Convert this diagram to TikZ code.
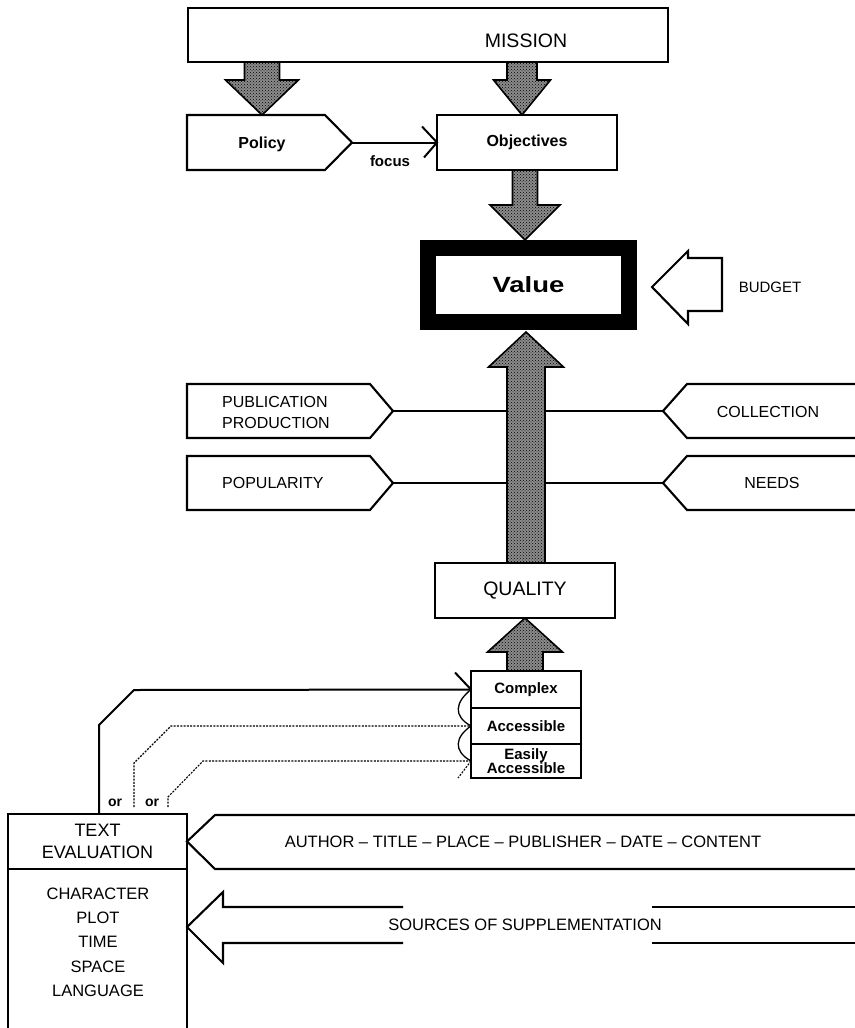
\documentclass[tikz,border=0pt]{standalone}
\usepackage{fontspec}
\setmainfont{Liberation Sans}
\usetikzlibrary{calc,patterns}

% vertical block arrow between two named points:
% #1 start, #2 tip, #3 shaft half-width, #4 head half-width, #5 head length
\newcommand\vblock[5]{%
  \draw[blockarrow] let \p1=(#1), \p2=(#2), \n1={sign(\y2-\y1)} in
    (\x1-#3pt,\y1) -- (\x1-#3pt,\y2-\n1*#5pt) -- (\x1-#4pt,\y2-\n1*#5pt) --
    (\x2,\y2) -- (\x1+#4pt,\y2-\n1*#5pt) -- (\x1+#3pt,\y2-\n1*#5pt) --
    (\x1+#3pt,\y1) -- cycle;}

\begin{document}
\begin{tikzpicture}[x=1pt,y=-1pt,
  box/.style={draw, line width=2.1pt, fill=white, inner sep=0pt, outer sep=0pt, align=center},
  txt/.style={inner sep=0pt, align=center, font=\fontsize{16}{18}\selectfont},
  btxt/.style={inner sep=0pt, align=center, font=\fontsize{15}{15}\selectfont\bfseries},
  outline/.style={draw, line width=2.1pt, line join=miter},
  edge/.style={line width=2pt},
  thinedge/.style={line width=1.3pt},
  dots/.style={line width=1.1pt, dash pattern=on 2pt off 1.3pt},
  blockarrow/.style={draw, line width=1.6pt, line join=miter,
    preaction={fill=black!45}, pattern=crosshatch dots, pattern color=black}]

\fill[white] (0,0) rectangle (854,1028);
\useasboundingbox (0,0) rectangle (854,1028);

% ---------- top: mission, policy, objectives ----------
\node[box, minimum width=480pt, minimum height=54pt] (mission) at (428,35) {};
\node[txt, font=\fontsize{19.5}{21}\selectfont] (missiontxt) at (526,41) {MISSION};

\draw[outline, fill=white] (187,115) -- (325,115) -- (352,142.5) -- (325,170) -- (187,170) -- cycle;
\coordinate (policytip) at (352,142.5);
\node[btxt, font=\fontsize{16}{18}\selectfont\bfseries] (policy) at (262,144) {Policy};

\node[box, minimum width=180pt, minimum height=55pt,
      font=\fontsize{16}{18}\selectfont\bfseries] (objectives) at (527,142.5) {Objectives};

\draw[edge] (policytip) -- (objectives.west);
\draw[edge] ($(objectives.west)+(-15,-16)$) -- (objectives.west) -- ($(objectives.west)+(-13,15)$);
\node[btxt] (focus) at (390,161) {focus};

\coordinate (m1) at (262,62);  \coordinate (p1) at (262,115);
\coordinate (m2) at (522,62);  \coordinate (o2) at (522,115);
\vblock{m1}{p1}{17.5}{36.5}{35}
\vblock{m2}{o2}{15}{28.5}{35}

% ---------- value and budget ----------
\node[draw, line width=16pt, fill=white, inner sep=0pt, outer sep=0pt,
      minimum width=201pt, minimum height=74pt] (value) at (528.5,285)
      {\scalebox{1.25}[1]{\fontsize{22}{24}\selectfont\bfseries Value}};

\coordinate (o3) at (525,170); \coordinate (v3) at (525,240);
\vblock{o3}{v3}{12.5}{35}{35}

\draw[outline, fill=white] (652,287) -- (688,251) -- (688,258) -- (722,258) --
  (722,311) -- (688,311) -- (688,324) -- cycle;
\node[txt, font=\fontsize{15}{17}\selectfont] (budget) at (770,287) {BUDGET};

% ---------- factors left and right ----------
\draw[outline, fill=white] (187,384) -- (370,384) -- (393,411) -- (370,438) -- (187,438) -- cycle;
\coordinate (pubtip) at (393,411);
\node[txt, anchor=west, align=left, font=\fontsize{16}{21}\selectfont] (publication) at (222,412)
  {PUBLICATION\\PRODUCTION};

\draw[outline, fill=white] (187,456) -- (370,456) -- (393,483) -- (370,510) -- (187,510) -- cycle;
\coordinate (poptip) at (393,483);
\node[txt, anchor=west] (popularity) at (222,483) {POPULARITY};

\draw[outline, fill=white] (858,384) -- (687,384) -- (663,411) -- (687,438) -- (858,438);
\coordinate (colltip) at (663,411);
\node[txt] (collection) at (768,412) {COLLECTION};

\draw[outline, fill=white] (858,456) -- (687,456) -- (663,483) -- (687,510) -- (858,510);
\coordinate (needstip) at (663,483);
\node[txt] (needs) at (772,483) {NEEDS};

\draw[edge] (pubtip) -- (colltip);
\draw[edge] (poptip) -- (needstip);

% ---------- quality ----------
\node[box, minimum width=180pt, minimum height=55pt,
      font=\fontsize{19.5}{21}\selectfont] (quality) at (525,590.5) {QUALITY};

\coordinate (q4) at (526,563); \coordinate (v4) at (526,332);
\vblock{q4}{v4}{19}{37.5}{35}

% ---------- levels of accessibility ----------
\node[box, minimum width=110pt, minimum height=37pt, btxt] (complex) at (526,689.5) {Complex};
\node[box, minimum width=110pt, minimum height=36pt, btxt] (accessible) at (526,726) {Accessible};
\node[box, minimum width=110pt, minimum height=34pt, btxt,
      font=\fontsize{15}{14.5}\selectfont\bfseries] (easily) at (526,761) {Easily\\Accessible};

\coordinate (c5) at (525,671); \coordinate (q5) at (525,618);
\vblock{c5}{q5}{18}{37.5}{34}

% ---------- text evaluation ----------
\node[box, minimum width=179pt, minimum height=55pt,
      font=\fontsize{18}{22}\selectfont] (texteval) at (97.5,841.5) {TEXT\\EVALUATION};
\draw[outline] (8,869) -- (8,1032);
\draw[outline] (187,869) -- (187,1032);

\node[txt, font=\fontsize{16.5}{18}\selectfont] (character) at (98,894) {CHARACTER};
\node[txt, font=\fontsize{16.5}{18}\selectfont] (plot) at (98,918) {PLOT};
\node[txt, font=\fontsize{16.5}{18}\selectfont] (time) at (98,942) {TIME};
\node[txt, font=\fontsize{16.5}{18}\selectfont] (space) at (98,967) {SPACE};
\node[txt, font=\fontsize{16.5}{18}\selectfont] (language) at (98,991) {LANGUAGE};

% connectors from text evaluation up to the accessibility levels
\coordinate (te1) at (99,814);
\coordinate (te2) at (134,807);
\coordinate (te3) at (168,807);
\draw[edge] (te1) -- (99,725) -- (134,690) -- (complex.west);
\draw[dots] (te2) -- (134,763) -- (171,726) -- (accessible.west);
\draw[dots] (te3) -- (168,797) -- (203,761) -- (easily.west);

\draw[edge] ($(complex.west)+(-16,-17)$) -- (complex.west);
\draw[thinedge] (complex.west) .. controls +(-16,13) and +(-18,-10) .. (accessible.west)
  .. controls +(-16,11) and +(-18,-10) .. (easily.west);
\draw[dots] (easily.west) -- +(-13,17);

\node[txt, font=\fontsize{14}{16}\selectfont\bfseries] (or1) at (115,803) {or};
\node[txt, font=\fontsize{14}{16}\selectfont\bfseries] (or2) at (152,803) {or};

% ---------- bibliographic data and sources ----------
\draw[outline] (858,815) -- (215,815) -- (texteval.east) -- (215,869) -- (858,869);
\node[txt, font=\fontsize{16.5}{18}\selectfont] (author) at (523,842)
  {AUTHOR -- TITLE -- PLACE -- PUBLISHER -- DATE -- CONTENT};

\coordinate (srctip) at (187,927);
\draw[outline] (403,907) -- (223,907) -- (223,892) -- (srctip) -- (223,963) -- (223,943) -- (403,943);
\draw[edge] (652,907) -- (858,907);
\draw[edge] (652,943) -- (858,943);
\node[txt, font=\fontsize{16.5}{18}\selectfont] (sources) at (525,925) {SOURCES OF SUPPLEMENTATION};

\end{tikzpicture}
\end{document}
